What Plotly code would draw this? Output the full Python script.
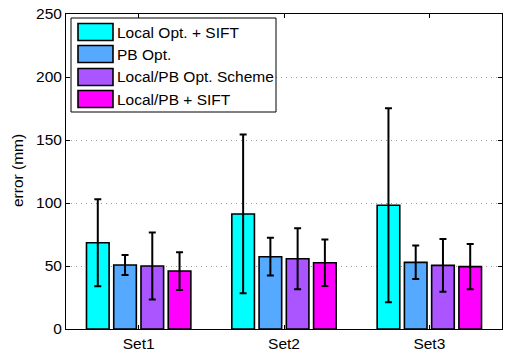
import plotly.graph_objects as go

categories = ["Set1", "Set2", "Set3"]
series_names = ["Local Opt. + SIFT", "PB Opt.", "Local/PB Opt. Scheme", "Local/PB + SIFT"]
means = [
    [68.5, 91.3, 98.2],
    [50.8, 57.4, 52.9],
    [50.0, 55.8, 50.5],
    [46.0, 52.6, 49.5],
]
errors = [
    [34.5, 63.0, 77.0],
    [8.0, 15.0, 13.3],
    [26.5, 24.2, 21.0],
    [15.0, 18.5, 18.0],
]
colors = ["#00FFFF", "#55AAFF", "#AA55FF", "#FF00FF"]
y_ticks = [0, 50, 100, 150, 200, 250]

fig = go.Figure()
for name, m, e, c in zip(series_names, means, errors, colors):
    fig.add_trace(go.Bar(
        x=categories, y=m, name=name,
        marker=dict(color=c, line=dict(color="black", width=1.6)),
        error_y=dict(type="data", array=e, visible=True, color="black", thickness=2, width=3.5),
        showlegend=False,
    ))

font = dict(family="Liberation Sans, Arial, sans-serif", size=15.5, color="black")

FW, FH = 508, 354
L, T, W, H = 66, 14, 436, 315
def px(x):
    return (x - L) / W
def py(y):
    return (T + H - y) / H

shapes = [dict(type="rect", xref="paper", yref="paper", x0=px(71), x1=px(276), y0=py(112), y1=py(18),
               line=dict(color="black", width=1), fillcolor="white", layer="above")]
annotations = [dict(xref="paper", yref="paper", x=px(17), y=py(171), text="error (mm)", textangle=-90,
                    showarrow=False, xanchor="center", yanchor="middle", font=font)]
centers = [32, 54, 77, 99]
for name, c, cy in zip(series_names, colors, centers):
    shapes.append(dict(type="rect", xref="paper", yref="paper", x0=px(78), x1=px(113),
                       y0=py(cy + 8.5), y1=py(cy - 8.5), line=dict(color="black", width=1.6),
                       fillcolor=c, layer="above"))
    annotations.append(dict(xref="paper", yref="paper", x=px(115), y=py(cy), text=name,
                            showarrow=False, xanchor="left", yanchor="middle", font=font))

fig.update_layout(
    width=FW, height=FH,
    margin=dict(l=L, r=FW - L - W, t=T, b=FH - T - H, autoexpand=False),
    paper_bgcolor="white", plot_bgcolor="white",
    barmode="group", bargap=0.25, bargroupgap=0.17,
    font=font,
    shapes=shapes, annotations=annotations,
    showlegend=False,
)
fig.update_xaxes(
    showline=True, linecolor="black", linewidth=1, mirror="ticks",
    ticks="inside", ticklen=4, tickcolor="black", showgrid=False, automargin=False,
    tickfont=font, range=[-0.5, 2.5],
)
fig.update_yaxes(
    range=[0, 250], tickvals=y_ticks, showline=True, linecolor="black", linewidth=1, mirror="ticks",
    ticks="inside", ticklen=4, tickcolor="black", automargin=False, ticklabeloverflow="allow",
    showgrid=True, gridcolor="#999999", griddash="1px,4px", gridwidth=1, zeroline=False,
    tickfont=font,
)
fig.write_html("out.html", config={"displayModeBar": False},
               post_script="document.body.style.margin='0';document.body.style.overflow='hidden';")
